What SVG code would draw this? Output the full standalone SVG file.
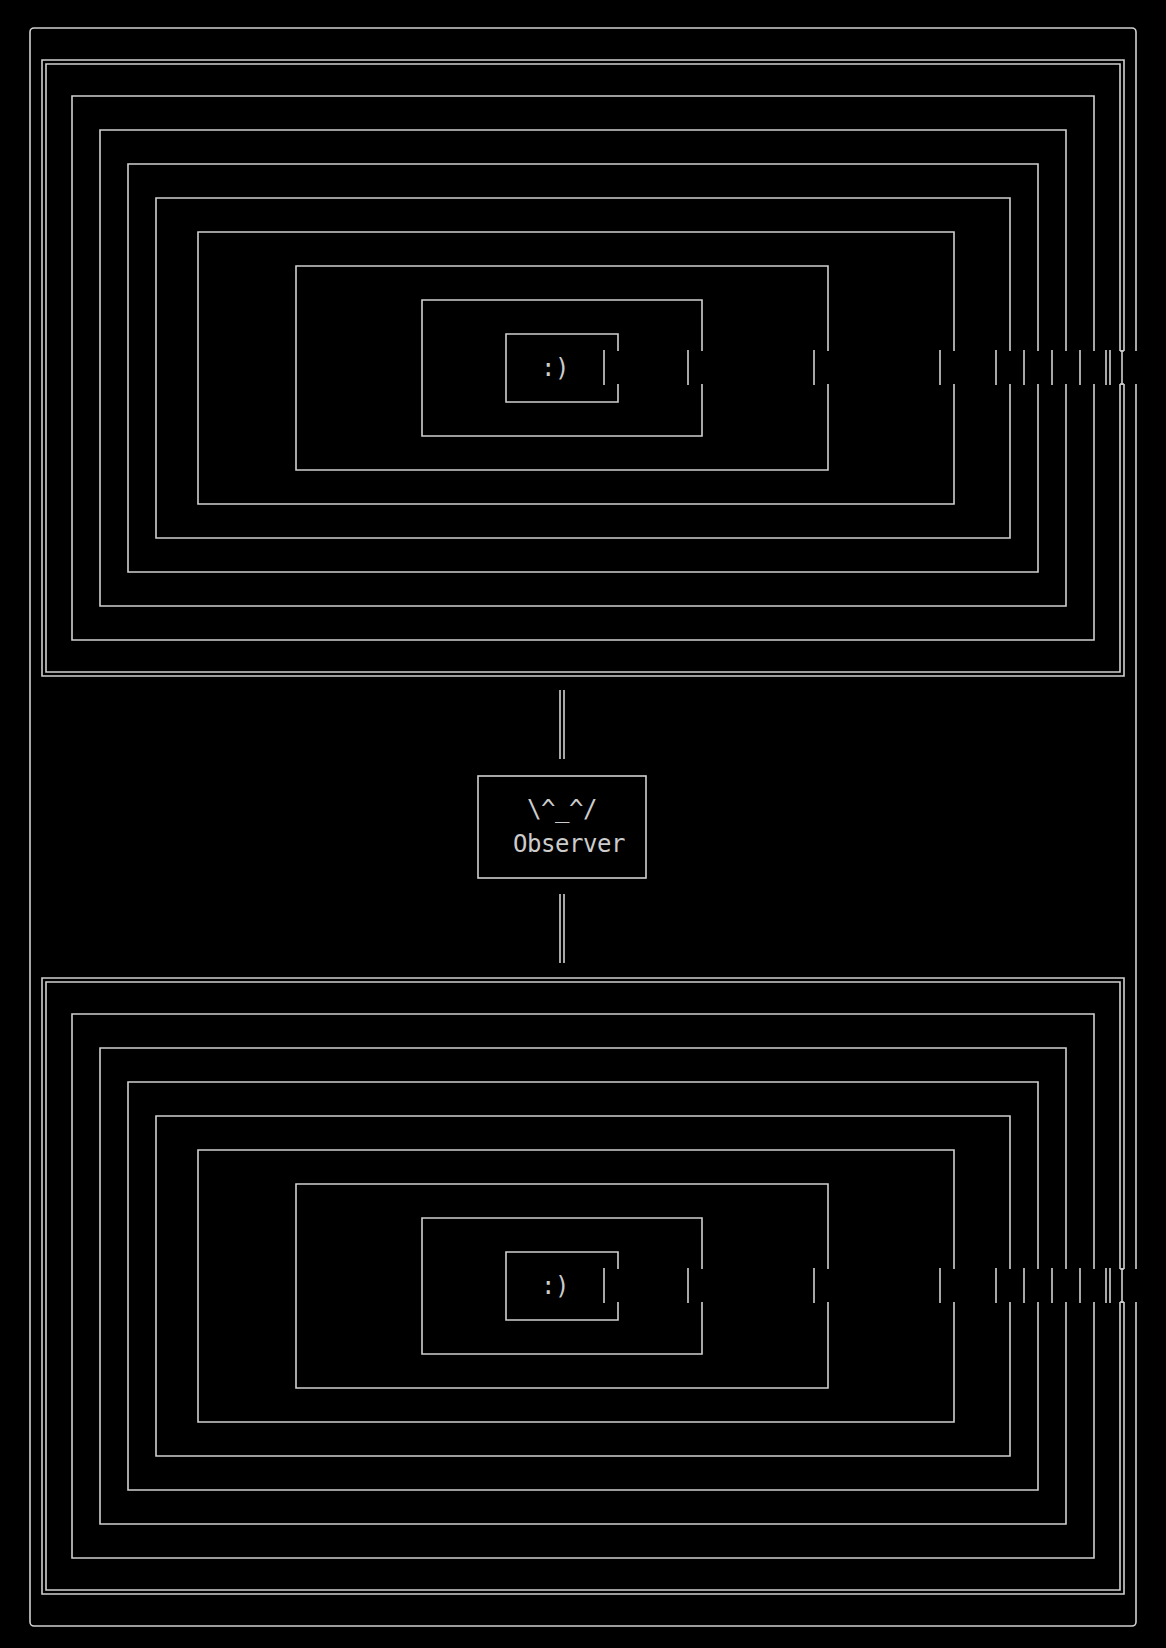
<svg xmlns="http://www.w3.org/2000/svg" width="1166" height="1648" viewBox="0 0 1166 1648">
<style>
.ln{fill:none;stroke:#d0d0d0;stroke-width:1.6;stroke-linecap:butt;stroke-linejoin:miter}
.tx{font-family:"DejaVu Sans Mono","Liberation Mono",monospace;font-size:24px;fill:#cccccc;letter-spacing:-0.45px}
</style>
<rect x="0" y="0" width="1166" height="1648" fill="#000000"/>
<g id="frame">
<path class="ln" d="M1136 351 V32 A4 4 0 0 0 1132 28 H34 A4 4 0 0 0 30 32 V1622 A4 4 0 0 0 34 1626 H1132 A4 4 0 0 0 1136 1622 V1302"/>
<path class="ln" d="M1136 384 V1269"/>
<path class="ln" d="M1122 350 V385 M1122 1268 V1303"/>
</g>
<g id="top-world">
<g id="top-double">
<path class="ln" d="M1124 351 V60 H42 V676 H1124 V384 M1120 351 V64 H46 V672 H1120 V384 M1120 351 H1124 M1120 384 H1124"/>
<path class="ln" d="M1106 350 V385 M1110 350 V385"/>
</g>
<g id="top-b1"><path class="ln" d="M1094 351 V96 H72 V640 H1094 V384 M1080 350 V385"/></g>
<g id="top-b2"><path class="ln" d="M1066 351 V130 H100 V606 H1066 V384 M1052 350 V385"/></g>
<g id="top-b3"><path class="ln" d="M1038 351 V164 H128 V572 H1038 V384 M1024 350 V385"/></g>
<g id="top-b4"><path class="ln" d="M1010 351 V198 H156 V538 H1010 V384 M996 350 V385"/></g>
<g id="top-b5"><path class="ln" d="M954 351 V232 H198 V504 H954 V384 M940 350 V385"/></g>
<g id="top-b6"><path class="ln" d="M828 351 V266 H296 V470 H828 V384 M814 350 V385"/></g>
<g id="top-b7"><path class="ln" d="M702 351 V300 H422 V436 H702 V384 M688 350 V385"/></g>
<g id="top-smiley"><path class="ln" d="M618 351 V334 H506 V402 H618 V384 M604 350 V385"/>
<text class="tx" x="541" y="376">:)</text></g>
</g>
<g id="observer">
<rect class="ln" x="478" y="776" width="168" height="102"/>
<text class="tx" x="527" y="817">\^_^/</text>
<text class="tx" x="513" y="852">Observer</text>
</g>
<g id="connectors">
<path class="ln" d="M560 690 V759 M564 690 V759"/>
<path class="ln" d="M560 894 V963 M564 894 V963"/>
</g>
<g id="bottom-world">
<g id="bottom-double">
<path class="ln" d="M1124 1269 V978 H42 V1594 H1124 V1302 M1120 1269 V982 H46 V1590 H1120 V1302 M1120 1269 H1124 M1120 1302 H1124"/>
<path class="ln" d="M1106 1268 V1303 M1110 1268 V1303"/>
</g>
<g id="bottom-b1"><path class="ln" d="M1094 1269 V1014 H72 V1558 H1094 V1302 M1080 1268 V1303"/></g>
<g id="bottom-b2"><path class="ln" d="M1066 1269 V1048 H100 V1524 H1066 V1302 M1052 1268 V1303"/></g>
<g id="bottom-b3"><path class="ln" d="M1038 1269 V1082 H128 V1490 H1038 V1302 M1024 1268 V1303"/></g>
<g id="bottom-b4"><path class="ln" d="M1010 1269 V1116 H156 V1456 H1010 V1302 M996 1268 V1303"/></g>
<g id="bottom-b5"><path class="ln" d="M954 1269 V1150 H198 V1422 H954 V1302 M940 1268 V1303"/></g>
<g id="bottom-b6"><path class="ln" d="M828 1269 V1184 H296 V1388 H828 V1302 M814 1268 V1303"/></g>
<g id="bottom-b7"><path class="ln" d="M702 1269 V1218 H422 V1354 H702 V1302 M688 1268 V1303"/></g>
<g id="bottom-smiley"><path class="ln" d="M618 1269 V1252 H506 V1320 H618 V1302 M604 1268 V1303"/>
<text class="tx" x="541" y="1294">:)</text></g>
</g>
</svg>
